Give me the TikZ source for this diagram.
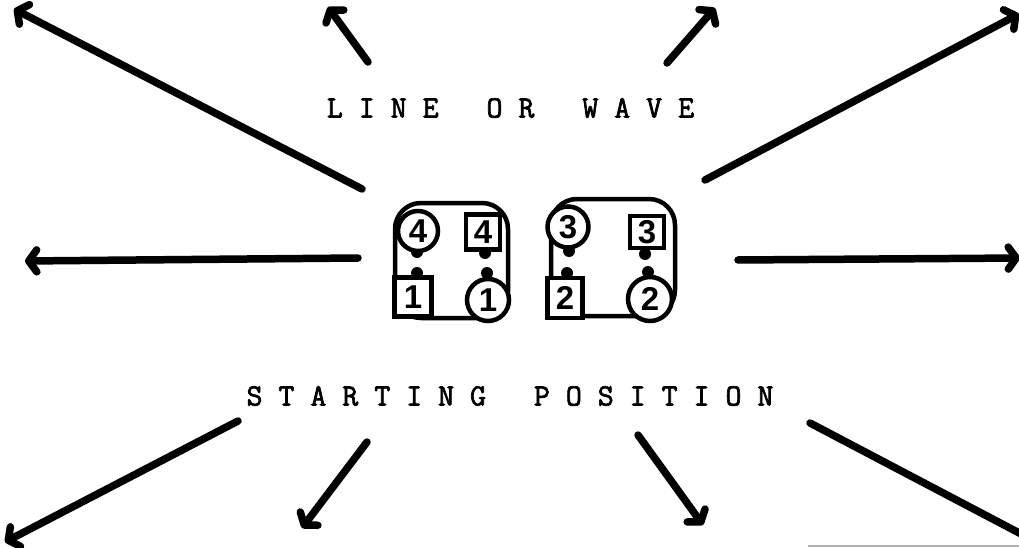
\documentclass[tikz,border=0pt]{standalone}
\usepackage{fontspec}
\usetikzlibrary{arrows.meta}
\newfontfamily\typew{Latin Modern Mono}[FakeBold=2.2]
\newfontfamily\handd{Liberation Sans}
\tikzset{
  arr/.style={line width=7.5pt, line cap=round,
    -{Straight Barb[length=8pt,width=22pt,round]}},
  plain/.style={line width=7.5pt, line cap=round},
  loopline/.style={line width=4.5pt, rounded corners=26pt},
  pcirc/.style={circle, draw, line width=4.5pt, fill=white, inner sep=0pt,
    font=\handd\bfseries\fontsize{33}{33}\selectfont},
  psq/.style={rectangle, draw, line width=4.5pt, fill=white, inner sep=0pt,
    font=\handd\bfseries\fontsize{33}{33}\selectfont},
  head/.style={circle, fill, inner sep=0pt, minimum size=12pt},
  label/.style={inner sep=0pt, font=\typew\fontsize{31}{31}\selectfont}
}
\begin{document}
\begin{tikzpicture}[x=1pt,y=-1pt]
\useasboundingbox (0,0) rectangle (1019,548);
\clip (0,0) rectangle (1019,548);
% arrow end points
\coordinate (s1) at (362,189); \coordinate (t1) at (14,9);
\coordinate (s2) at (368,62);  \coordinate (t2) at (328,7);
\coordinate (s3) at (667,63);  \coordinate (t3) at (715,8);
\coordinate (s4) at (705,180); \coordinate (t4) at (1019,14);
\coordinate (s5) at (358,258); \coordinate (t5) at (25,261);
\coordinate (s6) at (738,260); \coordinate (t6) at (1020,258);
\coordinate (s7) at (238,421); \coordinate (t7) at (5,542);
\coordinate (s8) at (367,442); \coordinate (t8) at (302,528);
\coordinate (s9) at (638,435); \coordinate (t9) at (703,525);
\coordinate (s10) at (810,423); \coordinate (t10) at (1025,536);
\draw[arr] (s1) -- (t1);
\draw[arr] (s2) -- (t2);
\draw[arr] (s3) -- (t3);
\draw[arr] (s4) -- (t4);
\draw[arr] (s5) -- (t5);
\draw[arr] (s6) -- (t6);
\draw[arr] (s7) -- (t7);
\draw[arr] (s8) -- (t8);
\draw[arr] (s9) -- (t9);
\draw[plain] (s10) -- (t10);
% faint scan line
\coordinate (g1) at (808,546); \coordinate (g2) at (1019,546);
\draw[gray!60, line width=1.5pt] (g1) -- (g2);
% labels
\node[label] (top) at (510.5,108) {L I N E~~~O R~~~W A V E};
\node[label] (bot) at (510,396) {S T A R T I N G~~~P O S I T I O N};
% left group
\draw[loopline] (395,203) rectangle (508,318);
\node[head] (h4c) at (417,252) {};
\node[head] (h1s) at (417,273) {};
\node[head] (h4s) at (485,253) {};
\node[head] (h1c) at (487,273) {};
\node[pcirc, minimum size=40pt] (c4) at (418,231) {4};
\node[psq, minimum width=34pt, minimum height=35pt] (q4) at (483,232) {4};
\node[psq, minimum width=37pt, minimum height=39pt] (q1) at (413,297) {1};
\node[pcirc, minimum size=42pt] (c1) at (488,300) {1};
% right group
\draw[loopline] (551,199) rectangle (675,316);
\node[head] (h3c) at (569,251) {};
\node[head] (h2s) at (567,273) {};
\node[head] (h3s) at (645,254) {};
\node[head] (h2c) at (648,272) {};
\node[pcirc, minimum size=41pt] (c3) at (568,227) {3};
\node[psq, minimum width=34pt, minimum height=32pt] (q3) at (647,232) {3};
\node[psq, minimum width=35pt, minimum height=40pt] (q2) at (565,298) {2};
\node[pcirc, minimum size=44pt] (c2) at (650,299) {2};
\end{tikzpicture}
\end{document}
